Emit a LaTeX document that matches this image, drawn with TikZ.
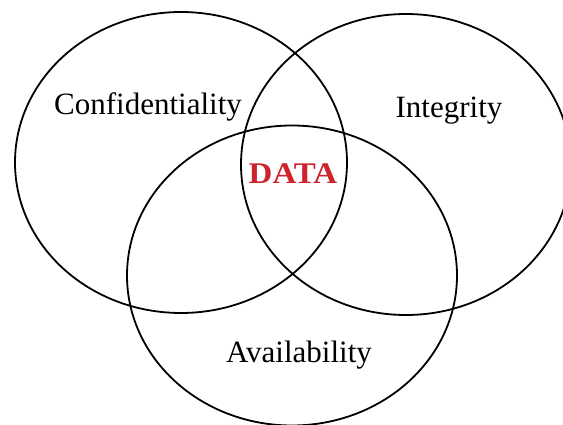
\documentclass[tikz,border=0pt]{standalone}
\usepackage{fontspec}
\setmainfont{Liberation Serif}
\definecolor{datared}{RGB}{205,35,45}
\begin{document}
\begin{tikzpicture}[x=1pt,y=-1pt,
  ring/.style={draw=black,line width=1.8pt},
  lbl/.style={font=\fontsize{31}{34}\selectfont,text=black,inner sep=0pt,anchor=base},
  core/.style={font=\fontsize{30}{33}\selectfont\bfseries,text=datared,inner sep=0pt,anchor=base,xscale=1.1}]
\useasboundingbox (0,0) rectangle (563,425);
\draw[ring] (181,162.5) ellipse [x radius=166, y radius=150.5];
\draw[ring] (406,164.5) ellipse [x radius=165, y radius=150.5];
\draw[ring] (292,275.5) ellipse [x radius=165, y radius=150];
\node[lbl] (conf) at (148,115) {Confidentiality};
\node[lbl] (integ) at (449,118) {Integrity};
\node[lbl] (avail) at (299,362) {Availability};
\node[core] (data) at (293,184) {DATA};
\end{tikzpicture}
\end{document}
